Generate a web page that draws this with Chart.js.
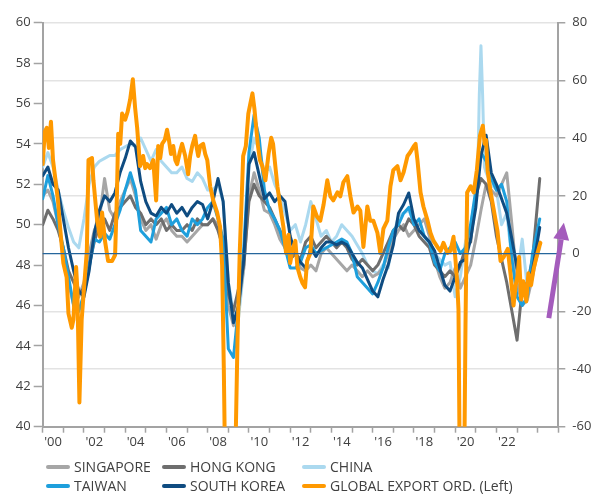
<!DOCTYPE html>
<html><head><meta charset="utf-8">
<script src="https://cdn.jsdelivr.net/npm/chart.js@4.4.1/dist/chart.umd.min.js"></script>
<style>
html,body{margin:0;padding:0;background:#fff;}
#wrap{position:relative;width:595px;height:494px;overflow:hidden;}
#legend{position:absolute;left:0;top:0;width:595px;height:494px;pointer-events:none;font-family:"Open Sans",sans-serif;font-size:14px;color:#404040;}
.lt{position:absolute;white-space:nowrap;line-height:16px;}
.ls{position:absolute;height:4px;width:24px;border-radius:2px;}
</style></head>
<body><div id="wrap"><canvas id="c" width="595" height="494"></canvas><div id="legend"></div></div>
<script>
// ---------- DATA ----------
const seriesNames = ['SINGAPORE','HONG KONG','CHINA','TAIWAN','SOUTH KOREA','GLOBAL EXPORT ORD. (Left)'];
const yearLabels = ["'00","'02","'04","'06","'08","'10","'12","'14","'16","'18","'20","'22"];
const leftTicks = [40,42,44,46,48,50,52,54,56,58,60];
const rightTicks = [-60,-40,-20,0,20,40,60,80];
const zeroLineValue = 0;

// quarterly observation dates (decimal years) for the export series
const qDates = [
2000,2000.25,2000.5,2000.75,2001,2001.25,2001.5,2001.75,2002,2002.25,2002.5,2002.75,
2003,2003.25,2003.5,2003.75,2004,2004.25,2004.5,2004.75,2005,2005.25,2005.5,2005.75,
2006,2006.25,2006.5,2006.75,2007,2007.25,2007.5,2007.75,2008,2008.25,2008.5,2008.75,
2009,2009.25,2009.5,2009.75,2010,2010.25,2010.5,2010.75,2011,2011.25,2011.5,2011.75,
2012,2012.25,2012.5,2012.75,2013,2013.25,2013.5,2013.75,2014,2014.25,2014.5,2014.75,
2015,2015.25,2015.5,2015.75,2016,2016.25,2016.5,2016.75,2017,2017.25,2017.5,2017.75,
2018,2018.25,2018.5,2018.75,2019,2019.25,2019.5,2019.75,2020,2020.25,2020.5,2020.75,
2021,2021.25,2021.5,2021.75,2022,2022.25,2022.5,2022.75,2023,2023.25,2023.5,2023.75,2024.1];

const southKorea = [
27,30,24,22, 12,2,-6,-13, -15,-6,7,15, 20,18,21,28, 33,39,37,25, 18,14,13,16,
14,17,14,16, 13,16,18,17, 12,18,26,18, -10,-24,-18,-2, 31,35,27,19, 21,18,20,18,
6,0,-3,-5, 2,-1,2,4, 4,3,4,3, 0,-3,-5,-9, -13,-15,-9,-4, 3,14,17,21,
12,8,6,4, 1,-5,-11,-13, -8,-3,-2,5, 16,34,41,28, 24,19,14,5, -5,-11,-11,-6, 9];

const taiwan = [
19,27,20,10, 2,-8,-18,-20, -14,-5,5,4, 7,5,10,15, 22,28,22,8, 6,4,12,14,
16,10,12,8, 6,12,10,12, 16,18,12,5, -33,-36,-18,2, 35,48,40,22, 15,12,8,2,
-5,-5,-3,2, 3,0,1,2, 3,4,5,4, 0,-8,-10,-12, -14,-10,-5,2, 8,10,14,16,
10,12,6,4, -3,-6,0,2, 4,0,2,10, 22,35,32,26, 22,24,18,-2, -15,-18,-15,0, 12];

const hongKong = [
10,15,12,8, 2,-6,-10,-14, -12,-4,4,10, 12,8,14,16, 18,20,16,14, 10,12,10,12,
8,10,8,8, 10,8,12,10, 10,12,8,2, -14,-20,-12,-4, 18,24,20,18, 16,12,8,4,
-2,0,-2,4, 6,2,4,6, 4,2,4,2, -2,-4,-2,-4, -6,-4,0,4, 8,10,8,12,
10,6,4,2, -4,-6,-8,-6, -8,-4,2,4, 20,26,24,18, 6,-2,-10,-20, -30,-12,-10,-2, 26];

const singapore = [
20,22,18,10, 0,-10,-18,-15, -10,0,8,12, 26,15,12,18, 22,26,20,12, 8,10,5,10,
12,8,6,6, 4,6,8,10, 10,12,10,0, -18,-25,-18,-5, 20,28,22,15, 14,10,5,2,
-2,0,-5,-6, -4,-6,0,2, 0,-2,-4,-6, -4,-6,-8,-6, -8,-7,-5,0, 5,8,10,6,
8,10,12,6, -2,-8,-12,-10, -5,-12,-8,-4, 5,15,24,22, 20,24,28,10, -10,-18,-16,-8, 4];

const chinaDates = [
2000,2000.25,2000.5,2000.75,2001,2001.25,2001.5,2001.75,2002,2002.25,2002.5,2002.75,
2003,2003.25,2003.5,2003.75,2004,2004.25,2004.5,2004.75,2005,2005.25,2005.5,2005.75,
2006,2006.25,2006.5,2006.75,2007,2007.25,2007.5,2007.75,2008,2008.25,2008.5,2008.75,
2009,2009.25,2009.5,2009.75,2010,2010.25,2010.5,2010.75,2011,2011.25,2011.5,2011.75,
2012,2012.25,2012.5,2012.75,2013,2013.25,2013.5,2013.75,2014,2014.25,2014.5,2014.75,
2015,2015.25,2015.5,2015.75,2016,2016.25,2016.5,2016.75,2017,2017.25,2017.5,2017.75,
2018,2018.25,2018.5,2018.75,2019,2019.25,2019.5,2019.75,2020,2020.25,2020.5,2020.75,
2021,2021.1,2021.17,2021.25,2021.33,2021.42,2021.5,2021.75,
2022,2022.25,2022.5,2022.75,2023,2023.25,2023.5,2023.75,2024.1];
const china = [
30,35,30,22, 15,9,4,2, 12,24,30,32, 33,34,34,36, 37,38,37,40, 36,32,36,32,
30,28,28,30, 26,25,28,26, 22,22,24,18, -10,-20,-22,-5, 30,40,36,28, 30,24,20,14,
8,10,4,10, 18,12,6,8, 4,6,10,8, 6,3,0,-4, -6,-7,-4,-5, 6,13,14,15,
11,8,6,3, 0,-2,-4,-3, -15,-8,4,10,
20,30,55,72,55,30,28,24,
22,10,14,-2, -8,5,-12,-6, 2];

// Global PMI new export orders (left axis), monthly-ish readings
const globalDates = [
2000.00,2000.10,2000.20,2000.30,2000.40,2000.50,2000.62,2000.74,2000.84,2001.00,2001.16,2001.25,2001.41,2001.49,2001.62,2001.68,2001.78,2001.89,2001.97,
2002.14,2002.22,2002.39,2002.46,2002.64,2002.78,2002.88,2003.02,2003.17,2003.36,2003.51,2003.60,2003.66,2003.76,2003.85,
2004.00,2004.12,2004.24,2004.37,2004.48,2004.58,2004.72,2004.87,2004.97,2005.06,2005.20,2005.36,2005.50,2005.60,2005.70,2005.79,2005.92,
2006.03,2006.12,2006.22,2006.33,2006.43,2006.52,2006.65,2006.76,2006.91,2007.05,2007.15,2007.25,2007.39,2007.47,2007.54,2007.64,2007.78,2007.88,2007.98,
2008.12,2008.27,2008.46,2008.60,2008.70,2008.78,2008.87,2008.95,2009.05,2009.15,2009.25,2009.35,2009.45,2009.55,2009.62,2009.72,2009.85,2009.97,
2010.07,2010.17,2010.27,2010.35,2010.44,2010.53,2010.65,2010.80,2010.95,2011.08,2011.17,2011.28,2011.38,2011.52,2011.67,2011.80,2011.92,
2012.00,2012.10,2012.25,2012.35,2012.49,2012.60,2012.72,2012.82,2012.98,2013.12,2013.30,2013.46,2013.62,2013.80,2013.95,
2014.09,2014.29,2014.43,2014.58,2014.77,2014.92,2015.07,2015.26,2015.40,2015.55,2015.74,2015.88,2016.03,2016.23,2016.37,2016.52,2016.71,2016.86,
2017.00,2017.20,2017.35,2017.50,2017.69,2017.83,2018.00,2018.08,2018.17,2018.32,2018.46,2018.66,2018.80,2018.95,2019.14,2019.29,2019.43,2019.63,2019.77,2019.92,
2020.02,2020.11,2020.16,2020.22,2020.28,2020.36,2020.44,2020.50,2020.58,2020.75,2020.90,2021.05,2021.20,2021.34,2021.43,2021.50,2021.57,2021.72,2021.86,
2022.05,2022.20,2022.35,2022.55,2022.69,2022.83,2022.93,2023.03,2023.10,2023.20,2023.30,2023.45,2023.55,2023.68,2023.80,2023.99,2024.13];
const globalExportOrders = [
53.0,54.6,54.8,53.8,55.1,53.2,52.2,51.2,49.9,48.1,47.4,45.6,44.9,45.3,47.9,46.8,41.2,45.3,46.4,
48.7,53.2,53.3,52.2,50.2,49.4,50.6,49.2,48.2,48.2,48.5,51.5,54.5,54.0,55.5,
55.2,55.6,56.2,57.2,55.8,54.8,52.9,53.4,52.8,53.0,52.8,53.2,51.2,53.9,53.3,54.0,54.2,
54.7,54.2,53.5,53.9,53.2,53.0,53.6,54.0,53.4,52.5,53.4,53.9,54.4,53.8,53.4,53.9,54.0,53.5,53.2,
51.9,51.2,50.6,49.9,48.0,43.0,36.0,33.0,32.0,33.5,36.0,39.0,44.5,48.5,50.5,53.4,53.9,55.5,
56.0,56.5,55.7,54.8,53.9,53.2,52.9,52.2,53.5,54.3,54.0,52.9,51.9,50.9,49.9,48.6,49.5,
48.1,48.7,49.2,47.9,47.4,47.1,46.9,48.2,48.6,50.9,50.4,50.2,51.0,52.2,51.4,
51.2,51.6,51.4,52.1,52.4,51.4,50.6,50.9,50.7,48.9,50.9,50.2,50.2,49.6,48.6,49.8,50.2,51.9,
52.7,52.9,52.2,52.6,53.4,53.6,53.9,54.0,53.2,51.6,50.9,50.2,49.6,49.2,48.9,48.7,49.1,48.6,48.7,49.4,
48.2,46.9,45.8,38.0,33.0,32.0,38.0,45.0,51.6,51.9,51.6,52.7,54.4,54.9,54.0,54.2,52.7,51.6,50.8,
49.7,48.2,48.4,48.8,47.5,46.0,47.0,47.5,48.4,46.3,47.2,46.2,47.6,47.0,47.8,48.6,49.1];

// annotation arrow (in x / right-axis units)
const arrowFrom = [2024.54, -22.4];
const arrowTo = [2025.27, 10.7];

// ---------- STYLE ----------
const COLORS = {
  sg: '#a6a6a6', hk: '#6e6e6e', cn: '#abd9ef', tw: '#1e9fdc', kr: '#0f4c81', gl: '#ff9900',
  zero: '#25669c', arrow: '#a45cbc', axis: '#a3a3a3', grid: '#e3e3e3', text: '#404040'
};
const FONT = { family: '"Open Sans", sans-serif', size: 13 };

const pts = (d, v) => d.map((x, i) => ({ x, y: v[i] }));
const ds = (label, d, v, color, w, axis) => ({
  label, data: pts(d, v), borderColor: color, backgroundColor: color, borderWidth: w,
  pointRadius: 0, tension: 0, yAxisID: axis, fill: false, borderJoinStyle: 'round', borderCapStyle: 'round'
});

// first dataset is drawn on top
const datasets = [
  ds(seriesNames[5], globalDates, globalExportOrders, COLORS.gl, 4, 'y'),
  ds(seriesNames[4], qDates, southKorea, COLORS.kr, 3, 'y2'),
  ds(seriesNames[3], qDates, taiwan, COLORS.tw, 3, 'y2'),
  ds(seriesNames[1], qDates, hongKong, COLORS.hk, 3, 'y2'),
  ds(seriesNames[0], qDates, singapore, COLORS.sg, 3, 'y2'),
  ds(seriesNames[2], chinaDates, china, COLORS.cn, 3, 'y2')
];

const overlay = {
  id: 'overlay',
  afterDatasetsDraw(chart) {
    const { ctx, chartArea: a, scales } = chart;
    const y0 = scales.y2.getPixelForValue(zeroLineValue);
    ctx.save();
    ctx.strokeStyle = COLORS.zero; ctx.lineWidth = 1.3;
    ctx.beginPath(); ctx.moveTo(a.left, y0); ctx.lineTo(a.right, y0); ctx.stroke();
    ctx.restore();
  },
  afterDraw(chart) {
    const { ctx, scales } = chart;
    const x1 = scales.x.getPixelForValue(arrowFrom[0]), y1 = scales.y2.getPixelForValue(arrowFrom[1]);
    const x2 = scales.x.getPixelForValue(arrowTo[0]), y2 = scales.y2.getPixelForValue(arrowTo[1]);
    const ang = Math.atan2(y2 - y1, x2 - x1), hl = 17, hw = 8;
    const bx = x2 - hl * Math.cos(ang), by = y2 - hl * Math.sin(ang);
    ctx.save();
    ctx.strokeStyle = COLORS.arrow; ctx.fillStyle = COLORS.arrow; ctx.lineWidth = 5; ctx.lineCap = 'butt';
    ctx.beginPath(); ctx.moveTo(x1, y1); ctx.lineTo(bx, by); ctx.stroke();
    ctx.beginPath(); ctx.moveTo(x2, y2);
    ctx.lineTo(bx + hw * Math.sin(ang), by - hw * Math.cos(ang));
    ctx.lineTo(bx - hw * Math.sin(ang), by + hw * Math.cos(ang));
    ctx.closePath(); ctx.fill();
    ctx.restore();
  }
};

new Chart(document.getElementById('c'), {
  type: 'line',
  data: { datasets },
  plugins: [overlay],
  options: {
    responsive: false, animation: false, events: [],
    layout: { padding: { top: 22.7, left: 0, right: 0, bottom: 0 } },
    plugins: { legend: { display: false }, tooltip: { enabled: false } },
    scales: {
      x: {
        type: 'linear', min: 2000, max: 2025,
        afterBuildTicks: s => { const t = []; for (let v = 2000; v <= 2025.001; v += 0.5) t.push({ value: v }); s.ticks = t; },
        ticks: {
          autoSkip: false, maxRotation: 0, minRotation: 0, padding: 2, color: COLORS.text, font: FONT,
          callback: v => { const yr = Math.floor(v); if (v - yr !== 0.5) return ''; const i = (yr - 2000) / 2; return Number.isInteger(i) && yearLabels[i] ? yearLabels[i] : ''; }
        },
        grid: { drawOnChartArea: false, drawTicks: true, tickLength: 6, tickWidth: 1.5,
          tickColor: c => (c.tick && Number.isInteger(c.tick.value)) ? COLORS.axis : 'rgba(0,0,0,0)' },
        border: { display: true, color: COLORS.axis, width: 2 },
        afterFit: s => { s.height = 67.3; }
      },
      y: {
        type: 'linear', position: 'left', min: 40, max: 60,
        afterBuildTicks: s => { s.ticks = leftTicks.map(v => ({ value: v })); },
        ticks: { color: COLORS.text, font: FONT, padding: 3 },
        grid: { drawOnChartArea: false, tickLength: 9, tickWidth: 1.5, tickColor: COLORS.axis },
        border: { color: COLORS.axis, width: 2 },
        afterFit: s => { s.width = 42.7; }
      },
      y2: {
        type: 'linear', position: 'right', min: -60, max: 80,
        afterBuildTicks: s => { s.ticks = rightTicks.map(v => ({ value: v })); },
        ticks: { color: COLORS.text, font: FONT, padding: 7 },
        grid: { drawOnChartArea: true, lineWidth: 1.5, tickLength: 7, tickWidth: 1.5, tickColor: COLORS.axis,
          color: c => (c.tick && c.tick.value === zeroLineValue) ? 'rgba(0,0,0,0)' : COLORS.grid },
        border: { color: COLORS.axis, width: 2 },
        afterFit: s => { s.width = 36.7; }
      }
    }
  }
});

// ---------- HTML legend ----------
const legendOrder = [
  { name: seriesNames[0], color: COLORS.sg, col: 0, row: 0 },
  { name: seriesNames[1], color: COLORS.hk, col: 1, row: 0 },
  { name: seriesNames[2], color: COLORS.cn, col: 2, row: 0 },
  { name: seriesNames[3], color: COLORS.tw, col: 0, row: 1 },
  { name: seriesNames[4], color: COLORS.kr, col: 1, row: 1 },
  { name: seriesNames[5], color: COLORS.gl, col: 2, row: 1 }
];
const colSwatchX = [46, 162, 302], colTextX = [74, 190, 330], rowY = [467, 486];
const leg = document.getElementById('legend');
legendOrder.forEach(it => {
  const sw = document.createElement('div'); sw.className = 'ls';
  sw.style.left = colSwatchX[it.col] + 'px'; sw.style.top = (rowY[it.row] - 2) + 'px'; sw.style.background = it.color;
  const tx = document.createElement('div'); tx.className = 'lt'; tx.textContent = it.name;
  tx.style.left = colTextX[it.col] + 'px'; tx.style.top = (rowY[it.row] - 8) + 'px';
  leg.appendChild(sw); leg.appendChild(tx);
});
</script>
</body></html>
